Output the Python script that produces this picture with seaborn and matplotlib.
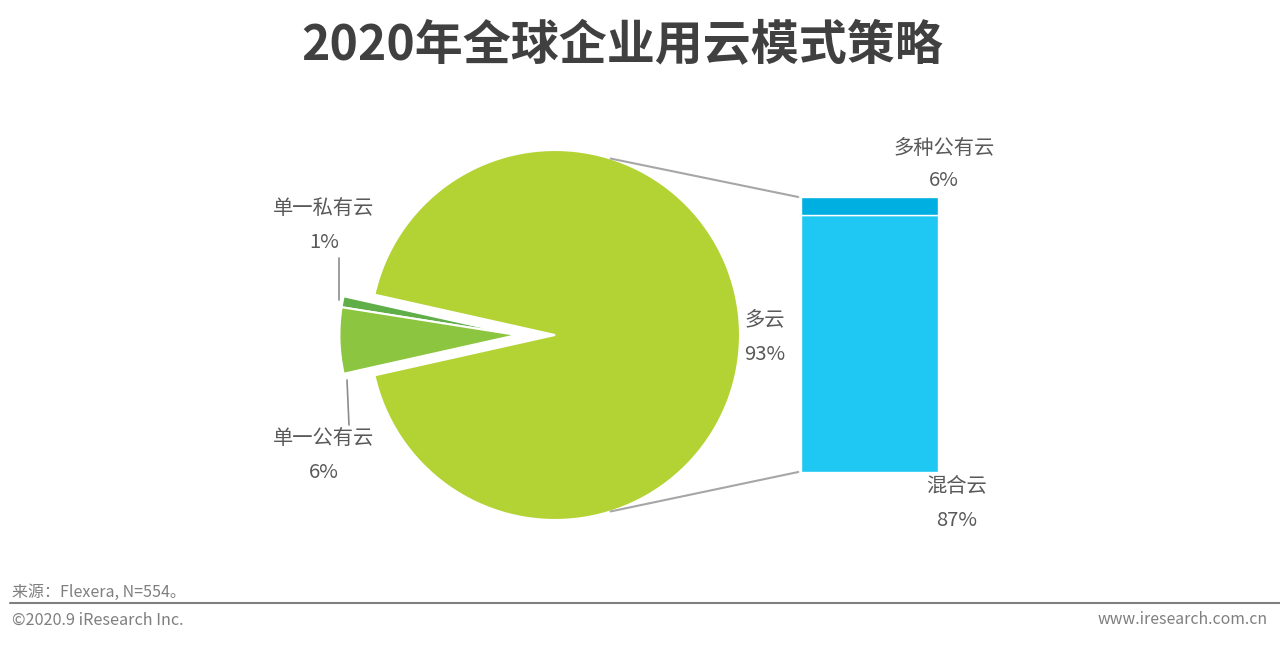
import numpy as np
import matplotlib
matplotlib.use("Agg")
import matplotlib.pyplot as plt
from matplotlib.patches import ConnectionPatch
from matplotlib.lines import Line2D
import seaborn as sns

# ---- data ----
pie_labels = ["单一私有云", "单一公有云", "多云"]
pie_values = [1, 6, 93]
pie_colors = ["#5fae47", "#8cc540", "#b3d334"]

bar_labels = ["混合云", "多种公有云"]
bar_values = [87, 6]
bar_colors = ["#1fc8f2", "#00afe2"]

title = "2020年全球企业用云模式策略"
source = "来源：Flexera, N=554。"
copyright_txt = "©2020.9 iResearch Inc."
website = "www.iresearch.com.cn"

sns.set_theme(style="white")
plt.rcParams["font.family"] = ["Noto Sans CJK SC", "DejaVu Sans"]

W, H = 1280, 645
fig = plt.figure(figsize=(W / 100, H / 100), dpi=100)


def px(x, y):
    return (x / W, 1 - y / H)


# ---- pie axes: centre (555,335), radius 185 px ----
R = 185
cx, cy = 555, 335
span = 1.5
side = 2 * span * R
axp = fig.add_axes([(cx - side / 2) / W, (H - cy - side / 2) / H, side / W, side / H])
small_total = sum(pie_values[:-1])
start = 180 - small_total / 100 * 360 / 2
wedges, _ = axp.pie(pie_values, colors=pie_colors, startangle=start, counterclock=True,
                    radius=1, wedgeprops=dict(edgecolor="white", linewidth=1.5))
shift = 38 / R
for w in wedges[:-1]:
    w.set_center((-shift, 0))
    w.set_radius(0.96)
axp.set_xlim(-span, span)
axp.set_ylim(-span, span)
axp.set_aspect("equal")
axp.axis("off")

# ---- stacked bar axes ----
bx0, bx1, by_top, by_bot = 801, 938, 197, 472
axb = fig.add_axes([bx0 / W, (H - by_bot) / H, (bx1 - bx0) / W, (by_bot - by_top) / H])
sns.barplot(x=["多云"], y=[bar_values[0]], color=bar_colors[0], saturation=1, width=1,
            edgecolor="white", linewidth=1, ax=axb)
sns.barplot(x=["多云"], y=[bar_values[1]], bottom=[bar_values[0]], color=bar_colors[1],
            saturation=1, width=1, edgecolor="white", linewidth=1, ax=axb)
axb.set_xlim(-0.5, 0.5)
axb.set_ylim(0, sum(bar_values))
axb.axis("off")

# ---- connection lines ----
for ang, yb in [(72.5, sum(bar_values)), (-72.5, 0)]:
    a = np.deg2rad(ang)
    cp = ConnectionPatch(xyA=(np.cos(a), np.sin(a)), coordsA=axp.transData,
                         xyB=(-0.52, yb), coordsB=axb.transData,
                         color="#a6a6a6", linewidth=1.5)
    fig.add_artist(cp)

# ---- label leader lines for small slices ----
fig.add_artist(Line2D([339 / W, 339 / W], [1 - 258 / H, 1 - 300 / H], color="#8c8c8c", lw=1.2))
fig.add_artist(Line2D([347 / W, 349 / W], [1 - 380 / H, 1 - 425 / H], color="#8c8c8c", lw=1.2))

# ---- labels ----
lab_kw = dict(color="#595959", fontsize=14.6, ha="center", va="center")
fig.text(*px(324, 209), pie_labels[0], **lab_kw)
fig.text(*px(324, 243), f"{pie_values[0]}%", **lab_kw)
fig.text(*px(324, 438), pie_labels[1], **lab_kw)
fig.text(*px(324, 472), f"{pie_values[1]}%", **lab_kw)
fig.text(*px(765, 320), pie_labels[2], **lab_kw)
fig.text(*px(765, 354), f"{pie_values[2]}%", **lab_kw)
fig.text(*px(944, 148), bar_labels[1], **lab_kw)
fig.text(*px(944, 181), f"{bar_values[1]}%", **lab_kw)
fig.text(*px(957, 487), bar_labels[0], **lab_kw)
fig.text(*px(957, 520), f"{bar_values[0]}%", **lab_kw)

# ---- title ----
fig.text(*px(622, 46), title, fontsize=34.6, fontweight="bold", color="#404040",
         ha="center", va="center")

# ---- footer ----
fig.text(*px(12, 592), source, fontsize=11.5, color="#7f7f7f", ha="left", va="center")
fig.add_artist(Line2D([10 / W, 1.0], [1 - 603 / H, 1 - 603 / H], color="#7f7f7f", lw=1.5))
fig.text(*px(12, 620), copyright_txt, fontsize=11.7, color="#7f7f7f", ha="left", va="center")
fig.text(*px(1268, 620), website, fontsize=11.4, color="#7f7f7f", ha="right", va="center")

fig.savefig("out.png", dpi=100, facecolor="white")
